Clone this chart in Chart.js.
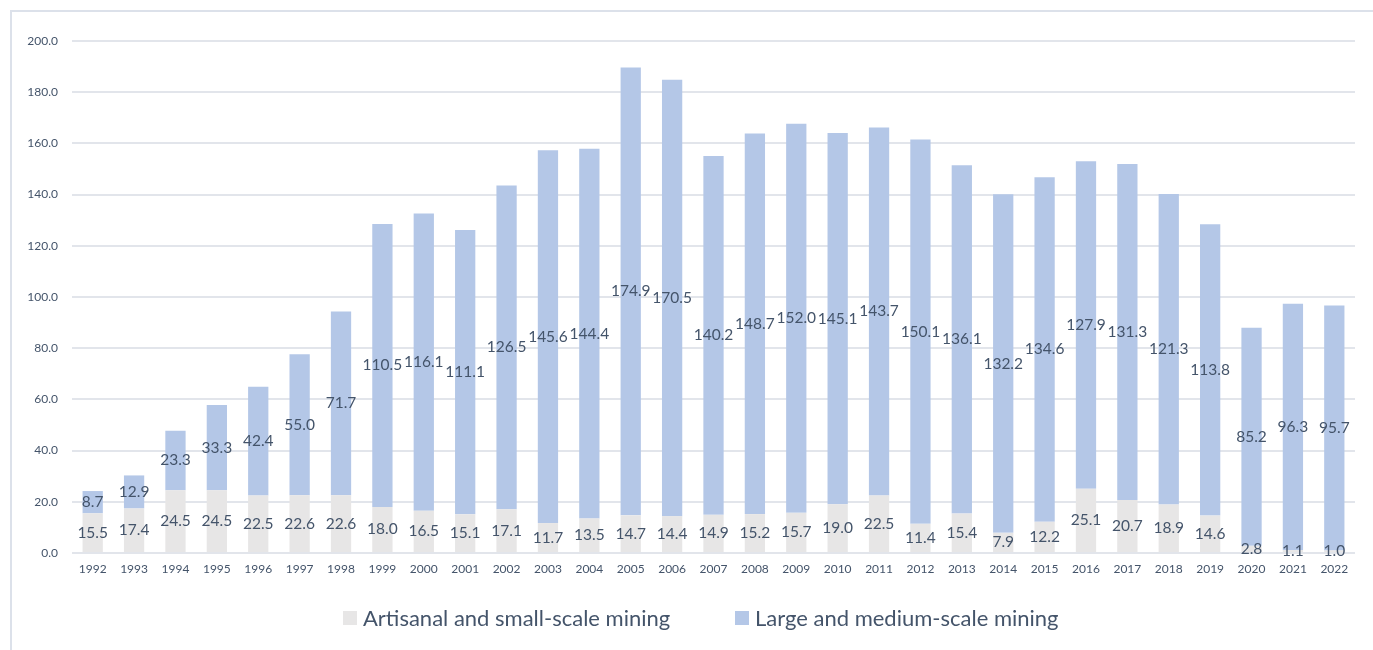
<!DOCTYPE html>
<html>
<head>
<meta charset="utf-8">
<script src="https://cdn.jsdelivr.net/npm/chart.js@4/dist/chart.umd.min.js"></script>
<style>
  html, body { margin: 0; padding: 0; background: #ffffff; overflow: hidden; }
  #wrap { position: relative; width: 1373px; height: 650px; }
  #frame { position: absolute; left: 10px; top: 10px; width: 1500px; height: 800px;
           border-left: 2px solid #DCE1EA; border-top: 2px solid #DCE1EA; box-sizing: border-box; }
  canvas { position: absolute; left: 0; top: 0; }
  .legend-item { position: absolute; top: 604px; display: flex; align-items: center;
                 font-family: Lato, "Open Sans", sans-serif; font-size: 22px; color: #44546A;
                 white-space: nowrap; line-height: 28px; }
  .legend-item .swatch { width: 14px; height: 14px; margin-right: 6px; display: inline-block; }
</style>
</head>
<body>
<div id="wrap">
  <div id="frame"></div>
  <canvas id="chart" width="1373" height="650"></canvas>
  <div id="legend"></div>
</div>
<script>
// Annual production by mining segment, 1992–2022
const years = ['1992','1993','1994','1995','1996','1997','1998','1999','2000','2001',
               '2002','2003','2004','2005','2006','2007','2008','2009','2010','2011',
               '2012','2013','2014','2015','2016','2017','2018','2019','2020','2021','2022'];

const artisanalSmall = [15.5, 17.4, 24.5, 24.5, 22.5, 22.6, 22.6, 18.0, 16.5, 15.1,
                        17.1, 11.7, 13.5, 14.7, 14.4, 14.9, 15.2, 15.7, 19.0, 22.5,
                        11.4, 15.4, 7.9, 12.2, 25.1, 20.7, 18.9, 14.6, 2.8, 1.1, 1.0];

const largeMedium = [8.7, 12.9, 23.3, 33.3, 42.4, 55.0, 71.7, 110.5, 116.1, 111.1,
                     126.5, 145.6, 144.4, 174.9, 170.5, 140.2, 148.7, 152.0, 145.1, 143.7,
                     150.1, 136.1, 132.2, 134.6, 127.9, 131.3, 121.3, 113.8, 85.2, 96.3, 95.7];

const seriesNames = ['Artisanal and small-scale mining', 'Large and medium-scale mining'];
const seriesColors = ['#E7E6E6', '#B4C7E7'];

const yTicks = { min: 0, max: 200, step: 20 };

const FONT = 'Lato, "Open Sans", sans-serif';
const TEXT = '#44546A';

// Writes each segment's value in the middle of its bar segment
const segmentLabels = {
  id: 'segmentLabels',
  afterDatasetsDraw(chart) {
    const ctx = chart.ctx;
    ctx.save();
    ctx.font = '15.5px ' + FONT;
    ctx.fillStyle = TEXT;
    ctx.textAlign = 'center';
    ctx.textBaseline = 'middle';
    chart.data.datasets.forEach((ds, i) => {
      const meta = chart.getDatasetMeta(i);
      meta.data.forEach((bar, j) => {
        const v = ds.data[j];
        ctx.fillText(v.toFixed(1), bar.x, (bar.y + bar.base) / 2);
      });
    });
    ctx.restore();
  }
};

const chart = new Chart(document.getElementById('chart'), {
  type: 'bar',
  data: {
    labels: years,
    datasets: [
      { label: seriesNames[0], data: artisanalSmall, backgroundColor: seriesColors[0], stack: 's' },
      { label: seriesNames[1], data: largeMedium, backgroundColor: seriesColors[1], stack: 's' }
    ]
  },
  options: {
    responsive: false,
    animation: false,
    layout: { padding: { top: 41, right: 18, bottom: 71, left: 0 } },
    datasets: { bar: { categoryPercentage: 1.0, barPercentage: 0.49 } },
    scales: {
      x: {
        stacked: true,
        grid: { display: false, drawTicks: false },
        border: { display: false },
        ticks: { color: TEXT, font: { family: FONT, size: 12 }, padding: 9, maxRotation: 0 },
        afterFit(scale) { scale.height = 26; }
      },
      y: {
        stacked: true,
        min: yTicks.min, max: yTicks.max,
        grid: { color: '#E2E5EB', lineWidth: 2, drawTicks: false },
        border: { display: false },
        ticks: { stepSize: yTicks.step, color: TEXT, font: { family: FONT, size: 12 }, padding: 14,
                 callback: v => Number(v).toFixed(1) },
        afterFit(scale) { scale.width = 72; }
      }
    },
    plugins: {
      tooltip: { enabled: false },
      legend: { display: false }
    }
  },
  plugins: [segmentLabels]
});

// Legend below the plot
const legendLefts = [343, 735];
const legendEl = document.getElementById('legend');
seriesNames.forEach((name, i) => {
  const item = document.createElement('div');
  item.className = 'legend-item';
  item.style.left = legendLefts[i] + 'px';
  const sw = document.createElement('span');
  sw.className = 'swatch';
  sw.style.background = seriesColors[i];
  item.appendChild(sw);
  item.appendChild(document.createTextNode(name));
  legendEl.appendChild(item);
});
</script>
</body>
</html>
